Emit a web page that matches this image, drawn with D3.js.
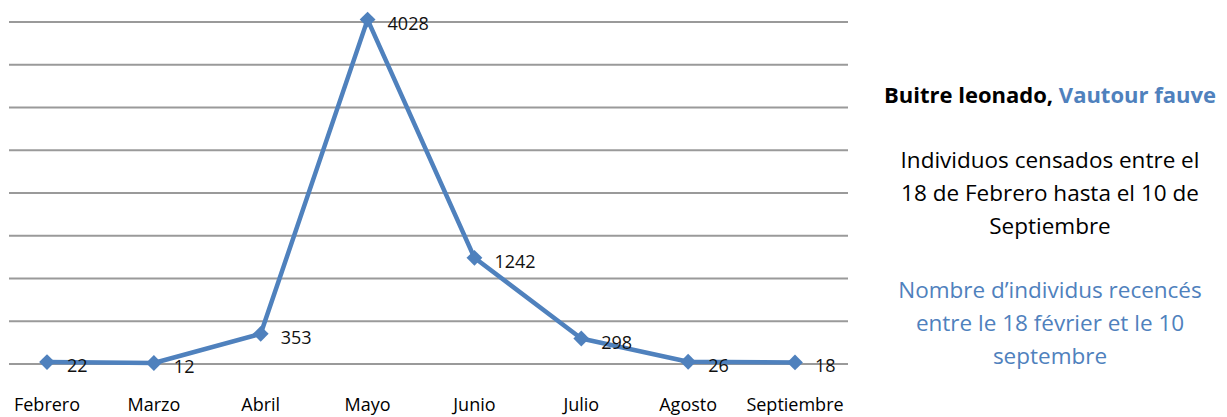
<!DOCTYPE html>
<html>
<head>
<meta charset="utf-8">
<script src="https://cdnjs.cloudflare.com/ajax/libs/d3/7.8.5/d3.min.js"></script>
<style>
  body { margin: 0; background: #fff; }
  text { font-family: "Open Sans", "Noto Sans", sans-serif; }
</style>
</head>
<body>
<svg id="chart" width="1227" height="417"></svg>
<script>
  // data
  var months = ["Febrero", "Marzo", "Abril", "Mayo", "Junio", "Julio", "Agosto", "Septiembre"];
  var counts = [22, 12, 353, 4028, 1242, 298, 26, 18];
  var yTicks = [0, 500, 1000, 1500, 2000, 2500, 3000, 3500, 4000];

  var titleEs = "Buitre leonado, ";
  var titleFr = "Vautour fauve";
  var linesEs = ["Individuos censados entre el", "18 de Febrero hasta el 10 de", "Septiembre"];
  var linesFr = ["Nombre d\u2019individus recenc\u00e9s", "entre le 18 f\u00e9vrier et le 10", "septembre"];

  var blue = "#4f81bd";
  var svg = d3.select("#chart");

  var x = d3.scalePoint().domain(months).range([47, 795]);
  var y = d3.scaleLinear().domain([0, 4000]).range([364, 22]);

  // horizontal gridlines
  svg.append("g").selectAll("line").data(yTicks).enter().append("line")
    .attr("x1", 9).attr("x2", 848)
    .attr("y1", function(d) { return y(d); })
    .attr("y2", function(d) { return y(d); })
    .attr("stroke", "#9a9a9a").attr("stroke-width", 2);

  // month labels
  svg.append("g").selectAll("text").data(months).enter().append("text")
    .attr("x", function(d) { return x(d); })
    .attr("y", 411)
    .attr("text-anchor", "middle")
    .attr("font-size", 18)
    .attr("fill", "#000")
    .text(function(d) { return d; });

  var pts = months.map(function(m, i) { return [m, counts[i]]; });

  var line = d3.line()
    .x(function(d) { return x(d[0]); })
    .y(function(d) { return y(d[1]); });

  svg.append("path").datum(pts)
    .attr("d", line)
    .attr("fill", "none")
    .attr("stroke", blue)
    .attr("stroke-width", 4.5)
    .attr("stroke-linejoin", "round");

  // diamond markers: square turned 45 degrees
  svg.append("g").selectAll("path").data(pts).enter().append("path")
    .attr("d", d3.symbol().type(d3.symbolSquare).size(125))
    .attr("transform", function(d) { return "translate(" + x(d[0]) + "," + y(d[1]) + ") rotate(45)"; })
    .attr("fill", blue);

  // value labels to the right of each marker
  svg.append("g").selectAll("text").data(pts).enter().append("text")
    .attr("x", function(d) { return x(d[0]) + 20; })
    .attr("y", function(d) { return y(d[1]) + 10; })
    .attr("font-size", 18)
    .attr("fill", "#111")
    .text(function(d) { return d[1]; });

  // side notes
  var cx = 1050;
  var title = svg.append("text")
    .attr("x", cx).attr("y", 103)
    .attr("text-anchor", "middle")
    .attr("font-size", 22)
    .attr("font-weight", "bold");
  title.append("tspan").attr("fill", "#000").text(titleEs);
  title.append("tspan").attr("fill", blue).text(titleFr);

  svg.append("g").selectAll("text").data(linesEs).enter().append("text")
    .attr("x", cx)
    .attr("y", function(d, i) { return 168 + i * 33; })
    .attr("text-anchor", "middle")
    .attr("font-size", 22.5)
    .attr("fill", "#000")
    .text(function(d) { return d; });

  svg.append("g").selectAll("text").data(linesFr).enter().append("text")
    .attr("x", cx)
    .attr("y", function(d, i) { return 298 + i * 33; })
    .attr("text-anchor", "middle")
    .attr("font-size", 22.5)
    .attr("fill", blue)
    .text(function(d) { return d; });
</script>
</body>
</html>
